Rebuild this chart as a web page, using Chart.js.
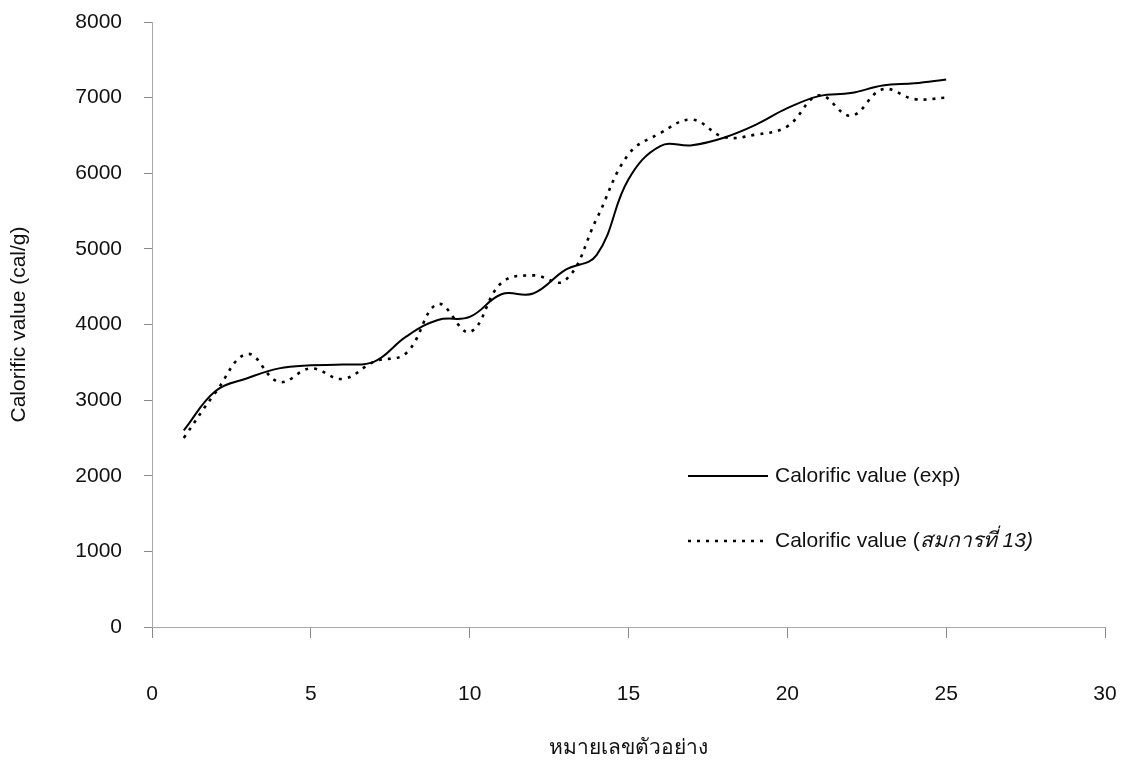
<!DOCTYPE html>
<html>
<head>
<meta charset="utf-8">
<script src="https://cdn.jsdelivr.net/npm/chart.js@4.4.0/dist/chart.umd.min.js"></script>
<style>
  html, body { margin: 0; padding: 0; background: #fff; }
  #wrap { width: 1135px; height: 779px; position: relative; }
</style>
</head>
<body>
<div id="wrap"><canvas id="chart"></canvas></div>
<script>
// Sample numbers and calorific values (cal/g)
const sampleNo = [1, 2, 3, 4, 5, 6, 7, 8, 9, 10, 11, 12, 13, 14, 15, 16, 17, 18, 19, 20, 21, 22, 23, 24, 25];
const expValues = [2600, 3120, 3290, 3420, 3460, 3470, 3510, 3840, 4060, 4100, 4400, 4410, 4720, 4920, 5920, 6360, 6370, 6470, 6640, 6860, 7020, 7060, 7160, 7190, 7240];
const eqValues = [2500, 3100, 3610, 3240, 3420, 3280, 3510, 3620, 4270, 3900, 4550, 4650, 4580, 5400, 6250, 6530, 6710, 6480, 6510, 6620, 7030, 6760, 7110, 6980, 7000];

const xTicks = [0, 5, 10, 15, 20, 25, 30];
const yTicks = [0, 1000, 2000, 3000, 4000, 5000, 6000, 7000, 8000];

const legendLabels = ['Calorific value (exp)', 'Calorific value (สมการที่ 13)'];

const FONT = '"Liberation Sans", Arial, "Noto Sans", sans-serif';

// Legend drawn inside the plot, like the original Excel chart
const insideLegend = {
  id: 'insideLegend',
  afterDatasetsDraw(chart) {
    const ctx = chart.ctx;
    const x0 = 688, x1 = 768, textX = 775;
    const rows = [476, 541];
    ctx.save();
    chart.data.datasets.forEach((ds, i) => {
      const y = rows[i];
      ctx.beginPath();
      ctx.strokeStyle = ds.borderColor;
      ctx.lineWidth = ds.borderWidth;
      ctx.setLineDash(ds.borderDash || []);
      ctx.moveTo(x0, y);
      ctx.lineTo(x1, y);
      ctx.stroke();
      ctx.setLineDash([]);
      ctx.fillStyle = '#111';
      ctx.textBaseline = 'middle';
      ctx.font = '21px ' + FONT;
      if (i === 1) {
        const head = 'Calorific value (';
        ctx.fillText(head, textX, y);
        const w = ctx.measureText(head).width;
        ctx.font = 'italic 21px ' + FONT;
        ctx.fillText(ds.label.slice(head.length), textX + w, y);
      } else {
        ctx.fillText(ds.label, textX, y);
      }
    });
    ctx.restore();
  }
};

const ctx = document.getElementById('chart').getContext('2d');
new Chart(ctx, {
  type: 'line',
  data: {
    datasets: [
      {
        label: legendLabels[0],
        data: sampleNo.map((n, i) => ({ x: n, y: expValues[i] })),
        borderColor: '#000',
        borderWidth: 2,
        pointRadius: 0,
        tension: 0.4,
        fill: false
      },
      {
        label: legendLabels[1],
        data: sampleNo.map((n, i) => ({ x: n, y: eqValues[i] })),
        borderColor: '#000',
        borderWidth: 2.6,
        borderDash: [3, 6],
        pointRadius: 0,
        tension: 0.4,
        fill: false
      }
    ]
  },
  options: {
    responsive: true,
    maintainAspectRatio: false,
    animation: false,
    layout: { padding: { top: 22, right: 30, bottom: 0, left: 0 } },
    plugins: {
      legend: { display: false },
      tooltip: { enabled: false }
    },
    scales: {
      x: {
        type: 'linear',
        min: 0,
        max: 30,
        afterBuildTicks(scale) { scale.ticks = xTicks.map(v => ({ value: v })); },
        afterFit(scale) {
          scale.height = 152;
          scale.paddingLeft = 0;
          scale.paddingRight = 0;
        },
        border: { color: '#a8a8a8', width: 1, dash: [10, 3] },
        grid: { drawOnChartArea: false, drawTicks: true, tickLength: 11, color: '#888' },
        ticks: {
          color: '#111', padding: 44, maxRotation: 0,
          font: { family: FONT, size: 21 },
          callback: v => String(v)
        },
        title: {
          display: true,
          text: 'หมายเลขตัวอย่าง',
          color: '#111',
          padding: { top: 0, bottom: 18 },
          font: { family: FONT, size: 21 }
        }
      },
      y: {
        min: 0,
        max: 8000,
        afterBuildTicks(scale) { scale.ticks = yTicks.map(v => ({ value: v })); },
        afterFit(scale) {
          scale.width = 152;
          scale.paddingTop = 0;
          scale.paddingBottom = 0;
        },
        border: { color: '#a8a8a8', width: 1, dash: [10, 3] },
        grid: { drawOnChartArea: false, drawTicks: true, tickLength: 8, color: '#888' },
        ticks: {
          color: '#111', padding: 22,
          font: { family: FONT, size: 21 },
          callback: v => String(v)
        },
        title: {
          display: true,
          text: 'Calorific value (cal/g)',
          color: '#111',
          padding: { top: 7, bottom: 0 },
          font: { family: FONT, size: 21 }
        }
      }
    }
  },
  plugins: [insideLegend]
});
</script>
</body>
</html>
